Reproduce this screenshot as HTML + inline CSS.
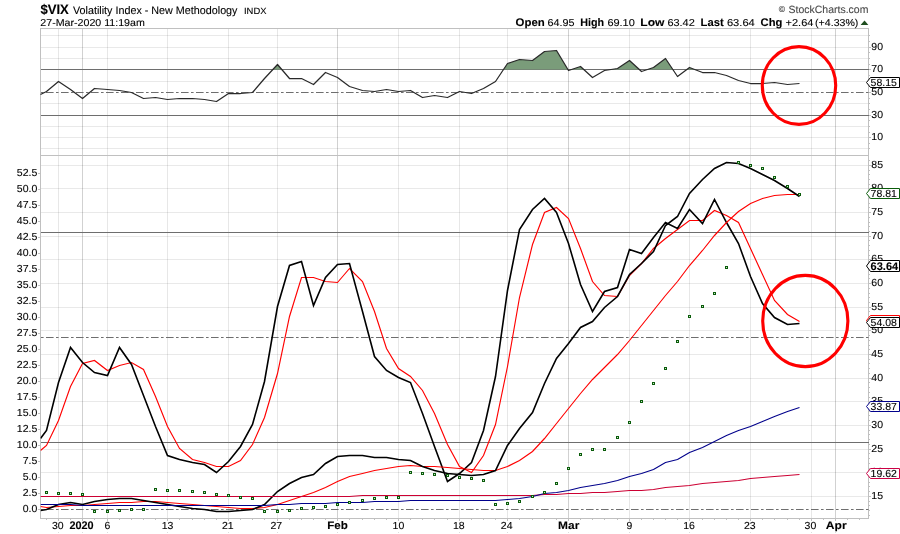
<!DOCTYPE html>
<html><head><meta charset="utf-8"><title>$VIX Volatility Index</title>
<style>html,body{margin:0;padding:0;background:#fff}svg{display:block}</style></head>
<body>
<svg width="900" height="534" viewBox="0 0 900 534" font-family="'Liberation Sans', sans-serif" text-rendering="geometricPrecision" stroke-linejoin="round">
<rect width="900" height="534" fill="#fff"/>
<g shape-rendering="crispEdges" stroke-width="1"><line x1="40.5" x2="868.5" y1="35.5" y2="35.5" stroke="rgba(0,0,0,0.085)"/><line x1="40.5" x2="868.5" y1="47.5" y2="47.5" stroke="rgba(0,0,0,0.085)"/><line x1="40.5" x2="868.5" y1="58.5" y2="58.5" stroke="rgba(0,0,0,0.085)"/><line x1="40.5" x2="868.5" y1="81.5" y2="81.5" stroke="rgba(0,0,0,0.085)"/><line x1="40.5" x2="868.5" y1="103.5" y2="103.5" stroke="rgba(0,0,0,0.085)"/><line x1="40.5" x2="868.5" y1="126.5" y2="126.5" stroke="rgba(0,0,0,0.085)"/><line x1="40.5" x2="868.5" y1="137.5" y2="137.5" stroke="rgba(0,0,0,0.085)"/><line x1="40.5" x2="868.5" y1="148.5" y2="148.5" stroke="rgba(0,0,0,0.085)"/><line x1="40.5" x2="868.5" y1="165.5" y2="165.5" stroke="rgba(0,0,0,0.085)"/><line x1="40.5" x2="868.5" y1="188.5" y2="188.5" stroke="rgba(0,0,0,0.085)"/><line x1="40.5" x2="868.5" y1="212.5" y2="212.5" stroke="rgba(0,0,0,0.085)"/><line x1="40.5" x2="868.5" y1="236.5" y2="236.5" stroke="rgba(0,0,0,0.085)"/><line x1="40.5" x2="868.5" y1="259.5" y2="259.5" stroke="rgba(0,0,0,0.085)"/><line x1="40.5" x2="868.5" y1="283.5" y2="283.5" stroke="rgba(0,0,0,0.085)"/><line x1="40.5" x2="868.5" y1="307.5" y2="307.5" stroke="rgba(0,0,0,0.085)"/><line x1="40.5" x2="868.5" y1="330.5" y2="330.5" stroke="rgba(0,0,0,0.085)"/><line x1="40.5" x2="868.5" y1="354.5" y2="354.5" stroke="rgba(0,0,0,0.085)"/><line x1="40.5" x2="868.5" y1="378.5" y2="378.5" stroke="rgba(0,0,0,0.085)"/><line x1="40.5" x2="868.5" y1="401.5" y2="401.5" stroke="rgba(0,0,0,0.085)"/><line x1="40.5" x2="868.5" y1="425.5" y2="425.5" stroke="rgba(0,0,0,0.085)"/><line x1="40.5" x2="868.5" y1="449.5" y2="449.5" stroke="rgba(0,0,0,0.085)"/><line x1="40.5" x2="868.5" y1="472.5" y2="472.5" stroke="rgba(0,0,0,0.085)"/><line x1="40.5" x2="868.5" y1="496.5" y2="496.5" stroke="rgba(0,0,0,0.085)"/><line x1="58.5" x2="58.5" y1="28.5" y2="518.5" stroke="rgba(0,0,0,0.095)"/><line x1="82.5" x2="82.5" y1="28.5" y2="518.5" stroke="rgba(0,0,0,0.18)"/><line x1="107.5" x2="107.5" y1="28.5" y2="518.5" stroke="rgba(0,0,0,0.095)"/><line x1="167.5" x2="167.5" y1="28.5" y2="518.5" stroke="rgba(0,0,0,0.095)"/><line x1="228.5" x2="228.5" y1="28.5" y2="518.5" stroke="rgba(0,0,0,0.095)"/><line x1="277.5" x2="277.5" y1="28.5" y2="518.5" stroke="rgba(0,0,0,0.095)"/><line x1="337.5" x2="337.5" y1="28.5" y2="518.5" stroke="rgba(0,0,0,0.18)"/><line x1="398.5" x2="398.5" y1="28.5" y2="518.5" stroke="rgba(0,0,0,0.095)"/><line x1="459.5" x2="459.5" y1="28.5" y2="518.5" stroke="rgba(0,0,0,0.095)"/><line x1="507.5" x2="507.5" y1="28.5" y2="518.5" stroke="rgba(0,0,0,0.095)"/><line x1="568.5" x2="568.5" y1="28.5" y2="518.5" stroke="rgba(0,0,0,0.18)"/><line x1="629.5" x2="629.5" y1="28.5" y2="518.5" stroke="rgba(0,0,0,0.095)"/><line x1="689.5" x2="689.5" y1="28.5" y2="518.5" stroke="rgba(0,0,0,0.095)"/><line x1="750.5" x2="750.5" y1="28.5" y2="518.5" stroke="rgba(0,0,0,0.095)"/><line x1="811.5" x2="811.5" y1="28.5" y2="518.5" stroke="rgba(0,0,0,0.095)"/><line x1="835.5" x2="835.5" y1="28.5" y2="518.5" stroke="rgba(0,0,0,0.18)"/></g>
<g shape-rendering="crispEdges" fill="none" stroke="#c0c0c0" stroke-width="1">
<rect x="40.5" y="28.5" width="828.0" height="490.0"/>
<line x1="40.5" x2="868.5" y1="155.5" y2="155.5"/>
</g>
<g shape-rendering="crispEdges" stroke="#c0c0c0" stroke-width="1"><line x1="38" x2="40" y1="509.5" y2="509.5"/><line x1="38" x2="40" y1="493.5" y2="493.5"/><line x1="38" x2="40" y1="477.5" y2="477.5"/><line x1="38" x2="40" y1="461.5" y2="461.5"/><line x1="38" x2="40" y1="445.5" y2="445.5"/><line x1="38" x2="40" y1="429.5" y2="429.5"/><line x1="38" x2="40" y1="413.5" y2="413.5"/><line x1="38" x2="40" y1="397.5" y2="397.5"/><line x1="38" x2="40" y1="381.5" y2="381.5"/><line x1="38" x2="40" y1="365.5" y2="365.5"/><line x1="38" x2="40" y1="349.5" y2="349.5"/><line x1="38" x2="40" y1="333.5" y2="333.5"/><line x1="38" x2="40" y1="317.5" y2="317.5"/><line x1="38" x2="40" y1="301.5" y2="301.5"/><line x1="38" x2="40" y1="285.5" y2="285.5"/><line x1="38" x2="40" y1="269.5" y2="269.5"/><line x1="38" x2="40" y1="253.5" y2="253.5"/><line x1="38" x2="40" y1="237.5" y2="237.5"/><line x1="38" x2="40" y1="221.5" y2="221.5"/><line x1="38" x2="40" y1="205.5" y2="205.5"/><line x1="38" x2="40" y1="189.5" y2="189.5"/><line x1="38" x2="40" y1="173.5" y2="173.5"/><line x1="46.5" x2="46.5" y1="519.0" y2="520.0"/><line x1="58.5" x2="58.5" y1="519.0" y2="521.0"/><line x1="70.5" x2="70.5" y1="519.0" y2="520.0"/><line x1="82.5" x2="82.5" y1="519.0" y2="521.0"/><line x1="94.5" x2="94.5" y1="519.0" y2="520.0"/><line x1="107.5" x2="107.5" y1="519.0" y2="521.0"/><line x1="119.5" x2="119.5" y1="519.0" y2="520.0"/><line x1="131.5" x2="131.5" y1="519.0" y2="520.0"/><line x1="143.5" x2="143.5" y1="519.0" y2="520.0"/><line x1="155.5" x2="155.5" y1="519.0" y2="520.0"/><line x1="167.5" x2="167.5" y1="519.0" y2="521.0"/><line x1="179.5" x2="179.5" y1="519.0" y2="520.0"/><line x1="192.5" x2="192.5" y1="519.0" y2="520.0"/><line x1="204.5" x2="204.5" y1="519.0" y2="520.0"/><line x1="216.5" x2="216.5" y1="519.0" y2="520.0"/><line x1="228.5" x2="228.5" y1="519.0" y2="521.0"/><line x1="240.5" x2="240.5" y1="519.0" y2="520.0"/><line x1="252.5" x2="252.5" y1="519.0" y2="520.0"/><line x1="264.5" x2="264.5" y1="519.0" y2="520.0"/><line x1="277.5" x2="277.5" y1="519.0" y2="521.0"/><line x1="289.5" x2="289.5" y1="519.0" y2="520.0"/><line x1="301.5" x2="301.5" y1="519.0" y2="520.0"/><line x1="313.5" x2="313.5" y1="519.0" y2="520.0"/><line x1="325.5" x2="325.5" y1="519.0" y2="520.0"/><line x1="337.5" x2="337.5" y1="519.0" y2="521.0"/><line x1="349.5" x2="349.5" y1="519.0" y2="520.0"/><line x1="362.5" x2="362.5" y1="519.0" y2="520.0"/><line x1="374.5" x2="374.5" y1="519.0" y2="520.0"/><line x1="386.5" x2="386.5" y1="519.0" y2="520.0"/><line x1="398.5" x2="398.5" y1="519.0" y2="521.0"/><line x1="410.5" x2="410.5" y1="519.0" y2="520.0"/><line x1="422.5" x2="422.5" y1="519.0" y2="520.0"/><line x1="434.5" x2="434.5" y1="519.0" y2="520.0"/><line x1="447.5" x2="447.5" y1="519.0" y2="520.0"/><line x1="459.5" x2="459.5" y1="519.0" y2="521.0"/><line x1="471.5" x2="471.5" y1="519.0" y2="520.0"/><line x1="483.5" x2="483.5" y1="519.0" y2="520.0"/><line x1="495.5" x2="495.5" y1="519.0" y2="520.0"/><line x1="507.5" x2="507.5" y1="519.0" y2="521.0"/><line x1="519.5" x2="519.5" y1="519.0" y2="520.0"/><line x1="532.5" x2="532.5" y1="519.0" y2="520.0"/><line x1="544.5" x2="544.5" y1="519.0" y2="520.0"/><line x1="556.5" x2="556.5" y1="519.0" y2="520.0"/><line x1="568.5" x2="568.5" y1="519.0" y2="521.0"/><line x1="580.5" x2="580.5" y1="519.0" y2="520.0"/><line x1="592.5" x2="592.5" y1="519.0" y2="520.0"/><line x1="604.5" x2="604.5" y1="519.0" y2="520.0"/><line x1="617.5" x2="617.5" y1="519.0" y2="520.0"/><line x1="629.5" x2="629.5" y1="519.0" y2="521.0"/><line x1="641.5" x2="641.5" y1="519.0" y2="520.0"/><line x1="653.5" x2="653.5" y1="519.0" y2="520.0"/><line x1="665.5" x2="665.5" y1="519.0" y2="520.0"/><line x1="677.5" x2="677.5" y1="519.0" y2="520.0"/><line x1="689.5" x2="689.5" y1="519.0" y2="521.0"/><line x1="702.5" x2="702.5" y1="519.0" y2="520.0"/><line x1="714.5" x2="714.5" y1="519.0" y2="520.0"/><line x1="726.5" x2="726.5" y1="519.0" y2="520.0"/><line x1="738.5" x2="738.5" y1="519.0" y2="520.0"/><line x1="750.5" x2="750.5" y1="519.0" y2="521.0"/><line x1="762.5" x2="762.5" y1="519.0" y2="520.0"/><line x1="774.5" x2="774.5" y1="519.0" y2="520.0"/><line x1="787.5" x2="787.5" y1="519.0" y2="520.0"/><line x1="799.5" x2="799.5" y1="519.0" y2="520.0"/><line x1="811.5" x2="811.5" y1="519.0" y2="521.0"/><line x1="823.5" x2="823.5" y1="519.0" y2="520.0"/><line x1="835.5" x2="835.5" y1="519.0" y2="521.0"/><line x1="847.5" x2="847.5" y1="519.0" y2="520.0"/><line x1="859.5" x2="859.5" y1="519.0" y2="520.0"/><line x1="869.0" x2="870.0" y1="515.5" y2="515.5"/><line x1="869.0" x2="870.0" y1="510.5" y2="510.5"/><line x1="869.0" x2="870.0" y1="505.5" y2="505.5"/><line x1="869.0" x2="870.0" y1="501.5" y2="501.5"/><line x1="869.0" x2="871.0" y1="496.5" y2="496.5"/><line x1="869.0" x2="870.0" y1="491.5" y2="491.5"/><line x1="869.0" x2="870.0" y1="486.5" y2="486.5"/><line x1="869.0" x2="870.0" y1="482.5" y2="482.5"/><line x1="869.0" x2="870.0" y1="477.5" y2="477.5"/><line x1="869.0" x2="871.0" y1="472.5" y2="472.5"/><line x1="869.0" x2="870.0" y1="468.5" y2="468.5"/><line x1="869.0" x2="870.0" y1="463.5" y2="463.5"/><line x1="869.0" x2="870.0" y1="458.5" y2="458.5"/><line x1="869.0" x2="870.0" y1="453.5" y2="453.5"/><line x1="869.0" x2="871.0" y1="449.5" y2="449.5"/><line x1="869.0" x2="870.0" y1="444.5" y2="444.5"/><line x1="869.0" x2="870.0" y1="439.5" y2="439.5"/><line x1="869.0" x2="870.0" y1="434.5" y2="434.5"/><line x1="869.0" x2="870.0" y1="430.5" y2="430.5"/><line x1="869.0" x2="871.0" y1="425.5" y2="425.5"/><line x1="869.0" x2="870.0" y1="420.5" y2="420.5"/><line x1="869.0" x2="870.0" y1="415.5" y2="415.5"/><line x1="869.0" x2="870.0" y1="411.5" y2="411.5"/><line x1="869.0" x2="870.0" y1="406.5" y2="406.5"/><line x1="869.0" x2="871.0" y1="401.5" y2="401.5"/><line x1="869.0" x2="870.0" y1="397.5" y2="397.5"/><line x1="869.0" x2="870.0" y1="392.5" y2="392.5"/><line x1="869.0" x2="870.0" y1="387.5" y2="387.5"/><line x1="869.0" x2="870.0" y1="382.5" y2="382.5"/><line x1="869.0" x2="871.0" y1="378.5" y2="378.5"/><line x1="869.0" x2="870.0" y1="373.5" y2="373.5"/><line x1="869.0" x2="870.0" y1="368.5" y2="368.5"/><line x1="869.0" x2="870.0" y1="363.5" y2="363.5"/><line x1="869.0" x2="870.0" y1="359.5" y2="359.5"/><line x1="869.0" x2="871.0" y1="354.5" y2="354.5"/><line x1="869.0" x2="870.0" y1="349.5" y2="349.5"/><line x1="869.0" x2="870.0" y1="345.5" y2="345.5"/><line x1="869.0" x2="870.0" y1="340.5" y2="340.5"/><line x1="869.0" x2="870.0" y1="335.5" y2="335.5"/><line x1="869.0" x2="871.0" y1="330.5" y2="330.5"/><line x1="869.0" x2="870.0" y1="326.5" y2="326.5"/><line x1="869.0" x2="870.0" y1="321.5" y2="321.5"/><line x1="869.0" x2="870.0" y1="316.5" y2="316.5"/><line x1="869.0" x2="870.0" y1="311.5" y2="311.5"/><line x1="869.0" x2="871.0" y1="307.5" y2="307.5"/><line x1="869.0" x2="870.0" y1="302.5" y2="302.5"/><line x1="869.0" x2="870.0" y1="297.5" y2="297.5"/><line x1="869.0" x2="870.0" y1="293.5" y2="293.5"/><line x1="869.0" x2="870.0" y1="288.5" y2="288.5"/><line x1="869.0" x2="871.0" y1="283.5" y2="283.5"/><line x1="869.0" x2="870.0" y1="278.5" y2="278.5"/><line x1="869.0" x2="870.0" y1="274.5" y2="274.5"/><line x1="869.0" x2="870.0" y1="269.5" y2="269.5"/><line x1="869.0" x2="870.0" y1="264.5" y2="264.5"/><line x1="869.0" x2="871.0" y1="259.5" y2="259.5"/><line x1="869.0" x2="870.0" y1="255.5" y2="255.5"/><line x1="869.0" x2="870.0" y1="250.5" y2="250.5"/><line x1="869.0" x2="870.0" y1="245.5" y2="245.5"/><line x1="869.0" x2="870.0" y1="240.5" y2="240.5"/><line x1="869.0" x2="871.0" y1="236.5" y2="236.5"/><line x1="869.0" x2="870.0" y1="231.5" y2="231.5"/><line x1="869.0" x2="870.0" y1="226.5" y2="226.5"/><line x1="869.0" x2="870.0" y1="222.5" y2="222.5"/><line x1="869.0" x2="870.0" y1="217.5" y2="217.5"/><line x1="869.0" x2="871.0" y1="212.5" y2="212.5"/><line x1="869.0" x2="870.0" y1="207.5" y2="207.5"/><line x1="869.0" x2="870.0" y1="203.5" y2="203.5"/><line x1="869.0" x2="870.0" y1="198.5" y2="198.5"/><line x1="869.0" x2="870.0" y1="193.5" y2="193.5"/><line x1="869.0" x2="871.0" y1="188.5" y2="188.5"/><line x1="869.0" x2="870.0" y1="184.5" y2="184.5"/><line x1="869.0" x2="870.0" y1="179.5" y2="179.5"/><line x1="869.0" x2="870.0" y1="174.5" y2="174.5"/><line x1="869.0" x2="870.0" y1="170.5" y2="170.5"/><line x1="869.0" x2="871.0" y1="165.5" y2="165.5"/><line x1="869.0" x2="870.0" y1="160.5" y2="160.5"/><line x1="869.0" x2="870.0" y1="35.5" y2="35.5"/><line x1="869.0" x2="870.0" y1="41.5" y2="41.5"/><line x1="869.0" x2="871.0" y1="47.5" y2="47.5"/><line x1="869.0" x2="870.0" y1="52.5" y2="52.5"/><line x1="869.0" x2="870.0" y1="58.5" y2="58.5"/><line x1="869.0" x2="870.0" y1="64.5" y2="64.5"/><line x1="869.0" x2="871.0" y1="69.5" y2="69.5"/><line x1="869.0" x2="870.0" y1="75.5" y2="75.5"/><line x1="869.0" x2="870.0" y1="81.5" y2="81.5"/><line x1="869.0" x2="870.0" y1="86.5" y2="86.5"/><line x1="869.0" x2="871.0" y1="92.5" y2="92.5"/><line x1="869.0" x2="870.0" y1="98.5" y2="98.5"/><line x1="869.0" x2="870.0" y1="103.5" y2="103.5"/><line x1="869.0" x2="870.0" y1="109.5" y2="109.5"/><line x1="869.0" x2="871.0" y1="115.5" y2="115.5"/><line x1="869.0" x2="870.0" y1="120.5" y2="120.5"/><line x1="869.0" x2="870.0" y1="126.5" y2="126.5"/><line x1="869.0" x2="870.0" y1="132.5" y2="132.5"/><line x1="869.0" x2="871.0" y1="137.5" y2="137.5"/><line x1="869.0" x2="870.0" y1="143.5" y2="143.5"/><line x1="869.0" x2="870.0" y1="148.5" y2="148.5"/></g>
<g shape-rendering="crispEdges" fill="#dcdcdc"><rect x="58" y="532" width="1" height="1"/><rect x="82" y="532" width="1" height="1"/><rect x="107" y="532" width="1" height="1"/><rect x="167" y="532" width="1" height="1"/><rect x="228" y="532" width="1" height="1"/><rect x="277" y="532" width="1" height="1"/><rect x="337" y="532" width="1" height="1"/><rect x="398" y="532" width="1" height="1"/><rect x="459" y="532" width="1" height="1"/><rect x="507" y="532" width="1" height="1"/><rect x="568" y="532" width="1" height="1"/><rect x="629" y="532" width="1" height="1"/><rect x="689" y="532" width="1" height="1"/><rect x="750" y="532" width="1" height="1"/><rect x="811" y="532" width="1" height="1"/><rect x="835" y="532" width="1" height="1"/></g>
<g shape-rendering="crispEdges" stroke="#6e6e6e" stroke-width="1">
<line x1="40.5" x2="868.5" y1="69.5" y2="69.5"/>
<line x1="40.5" x2="868.5" y1="115.5" y2="115.5"/>
<line x1="40.5" x2="868.5" y1="92.5" y2="92.5" stroke-dasharray="7.6 2.4 2.6 2.4" stroke-dashoffset="9.5" shape-rendering="auto"/>
<line x1="40.5" x2="868.5" y1="232.5" y2="232.5"/>
<line x1="40.5" x2="868.5" y1="442.5" y2="442.5"/>
<line x1="40.5" x2="868.5" y1="337.5" y2="337.5" stroke-dasharray="7.6 2.4 2.6 2.4" stroke-dashoffset="9.5" shape-rendering="auto"/>
<line x1="40.5" x2="868.5" y1="509.5" y2="509.5" stroke-dasharray="7.6 2.4 2.6 2.4" stroke-dashoffset="9.5" shape-rendering="auto"/>
</g>
<polygon points="272.9,69.5 277.5,64.5 281.8,69.5" fill="#7a9c7a"/>
<polygon points="503.5,69.5 507.5,63.5 519.5,59.5 532.5,60.5 544.5,51.5 556.5,50.5 567.9,69.5" fill="#7a9c7a"/>
<polygon points="571.5,69.5 580.5,66.5 583.8,69.5" fill="#7a9c7a"/>
<polygon points="611.0,69.5 617.5,68.5 629.5,60.5 639.3,69.5" fill="#7a9c7a"/>
<polygon points="647.5,69.5 653.5,67.5 665.5,58.5 672.8,69.5" fill="#7a9c7a"/>
<polygon points="686.8,69.5 689.5,67.5 694.7,69.5" fill="#7a9c7a"/>
<polyline points="40.5,94.5 46.5,91.5 58.5,81.5 70.5,89.5 82.5,98.5 94.5,88.5 107.5,89.5 119.5,90.5 131.5,92.5 143.5,98.5 155.5,97.5 167.5,99.5 179.5,98.5 192.5,98.5 204.5,99.5 216.5,101.5 228.5,93.5 240.5,93.5 252.5,92.5 264.5,78.5 277.5,64.5 289.5,78.5 301.5,78.5 313.5,84.5 325.5,72.5 337.5,77.5 349.5,86.5 362.5,90.5 374.5,91.5 386.5,89.5 398.5,91.5 410.5,90.5 422.5,97.5 434.5,95.5 447.5,97.5 459.5,91.5 471.5,93.5 483.5,88.5 495.5,81.5 507.5,63.5 519.5,59.5 532.5,60.5 544.5,51.5 556.5,50.5 568.5,70.5 580.5,66.5 592.5,77.5 604.5,70.5 617.5,68.5 629.5,60.5 641.5,71.5 653.5,67.5 665.5,58.5 677.5,76.5 689.5,67.5 702.5,72.5 714.5,72.5 726.5,75.5 738.5,80.5 750.5,83.5 762.5,83.5 774.5,82.5 787.5,84.5 799.5,83.5" fill="none" stroke="#2a2a2a" stroke-width="1.25" stroke-linejoin="round"/>
<clipPath id="c"><rect x="40.5" y="155.5" width="828.0" height="363.0"/></clipPath>
<g clip-path="url(#c)">
<polyline points="40.5,450.5 46.5,445.5 58.5,420.5 70.5,386.5 82.5,363.5 94.5,360.5 107.5,370.5 119.5,365.5 131.5,362.5 143.5,369.5 155.5,396.5 167.5,426.5 179.5,448.5 192.5,459.5 204.5,462.5 216.5,466.5 228.5,466.5 240.5,460.5 252.5,444.5 264.5,417.5 277.5,373.5 289.5,316.5 301.5,277.5 313.5,277.5 325.5,281.5 337.5,282.5 349.5,268.5 362.5,281.5 374.5,311.5 386.5,348.5 398.5,368.5 410.5,376.5 422.5,390.5 434.5,413.5 447.5,444.5 459.5,466.5 471.5,472.5 483.5,455.5 495.5,424.5 507.5,366.5 519.5,297.5 532.5,244.5 544.5,212.5 556.5,207.5 568.5,218.5 580.5,248.5 592.5,281.5 604.5,295.5 617.5,296.5 629.5,275.5 641.5,263.5 653.5,248.5 665.5,238.5 677.5,229.5 689.5,220.5 702.5,220.5 714.5,210.5 726.5,215.5 738.5,222.5 750.5,248.5 762.5,274.5 774.5,300.5 787.5,314.5 799.5,321.5" fill="none" stroke="#ff0000" stroke-width="1.15" stroke-linejoin="miter"/>
<polyline points="40.5,438.5 46.5,430.5 58.5,382.5 70.5,347.5 82.5,362.5 94.5,372.5 107.5,375.5 119.5,347.5 131.5,364.5 143.5,395.5 155.5,426.5 167.5,455.5 179.5,459.5 192.5,462.5 204.5,464.5 216.5,472.5 228.5,461.5 240.5,446.5 252.5,424.5 264.5,381.5 277.5,306.5 289.5,265.5 301.5,261.5 313.5,305.5 325.5,277.5 337.5,264.5 349.5,263.5 362.5,311.5 374.5,356.5 386.5,370.5 398.5,377.5 410.5,382.5 422.5,413.5 434.5,446.5 447.5,481.5 459.5,473.5 471.5,462.5 483.5,430.5 495.5,376.5 507.5,290.5 519.5,229.5 532.5,209.5 544.5,198.5 556.5,212.5 568.5,243.5 580.5,284.5 592.5,311.5 604.5,291.5 617.5,287.5 629.5,249.5 641.5,253.5 653.5,237.5 665.5,222.5 677.5,228.5 689.5,209.5 702.5,223.5 714.5,199.5 726.5,222.5 738.5,243.5 750.5,276.5 762.5,303.5 774.5,317.5 787.5,324.5 799.5,323.5" fill="none" stroke="#000" stroke-width="1.6" stroke-linejoin="miter"/>
<polyline points="40.5,506.5 46.5,507.5 58.5,506.5 70.5,505.5 82.5,505.5 94.5,504.5 107.5,503.5 119.5,502.5 131.5,502.5 143.5,501.5 155.5,501.5 167.5,502.5 179.5,503.5 192.5,504.5 204.5,505.5 216.5,506.5 228.5,507.5 240.5,508.5 252.5,508.5 264.5,507.5 277.5,504.5 289.5,500.5 301.5,496.5 313.5,492.5 325.5,487.5 337.5,481.5 349.5,476.5 362.5,473.5 374.5,470.5 386.5,468.5 398.5,466.5 410.5,465.5 422.5,466.5 434.5,466.5 447.5,467.5 459.5,468.5 471.5,469.5 483.5,470.5 495.5,470.5 507.5,466.5 519.5,460.5 532.5,451.5 544.5,438.5 556.5,423.5 568.5,408.5 580.5,393.5 592.5,379.5 604.5,367.5 617.5,354.5 629.5,340.5 641.5,325.5 653.5,310.5 665.5,295.5 677.5,281.5 689.5,265.5 702.5,250.5 714.5,235.5 726.5,222.5 738.5,211.5 750.5,203.5 762.5,198.5 774.5,195.5 787.5,194.5 799.5,194.5" fill="none" stroke="#ff0000" stroke-width="1.15" stroke-linejoin="miter"/>
<polyline points="40.5,510.5 46.5,509.5 58.5,504.5 70.5,502.5 82.5,504.5 94.5,501.5 107.5,499.5 119.5,498.5 131.5,498.5 143.5,500.5 155.5,502.5 167.5,504.5 179.5,506.5 192.5,508.5 204.5,509.5 216.5,511.5 228.5,511.5 240.5,510.5 252.5,509.5 264.5,504.5 277.5,491.5 289.5,483.5 301.5,477.5 313.5,474.5 325.5,463.5 337.5,456.5 349.5,455.5 362.5,455.5 374.5,457.5 386.5,457.5 398.5,459.5 410.5,460.5 422.5,466.5 434.5,470.5 447.5,473.5 459.5,474.5 471.5,475.5 483.5,474.5 495.5,470.5 507.5,445.5 519.5,428.5 532.5,412.5 544.5,383.5 556.5,358.5 568.5,343.5 580.5,327.5 592.5,321.5 604.5,307.5 617.5,296.5 629.5,274.5 641.5,263.5 653.5,251.5 665.5,225.5 677.5,216.5 689.5,193.5 702.5,179.5 714.5,168.5 726.5,162.5 738.5,163.5 750.5,168.5 762.5,174.5 774.5,180.5 787.5,188.5 799.5,196.5" fill="none" stroke="#000" stroke-width="1.6" stroke-linejoin="miter"/>
<polyline points="40.5,496.5 46.5,496.5 58.5,496.5 70.5,496.5 82.5,496.5 94.5,496.5 107.5,496.5 119.5,496.5 131.5,496.5 143.5,496.5 155.5,496.5 167.5,496.5 179.5,496.5 192.5,496.5 204.5,496.5 216.5,496.5 228.5,496.5 240.5,496.5 252.5,496.5 264.5,496.5 277.5,496.5 289.5,496.5 301.5,496.5 313.5,496.5 325.5,496.5 337.5,496.5 349.5,496.5 362.5,495.5 374.5,495.5 386.5,495.5 398.5,495.5 410.5,495.5 422.5,495.5 434.5,495.5 447.5,495.5 459.5,495.5 471.5,495.5 483.5,495.5 495.5,495.5 507.5,495.5 519.5,495.5 532.5,495.5 544.5,494.5 556.5,494.5 568.5,493.5 580.5,493.5 592.5,492.5 604.5,492.5 617.5,491.5 629.5,490.5 641.5,490.5 653.5,489.5 665.5,487.5 677.5,486.5 689.5,485.5 702.5,483.5 714.5,482.5 726.5,481.5 738.5,480.5 750.5,478.5 762.5,477.5 774.5,476.5 787.5,475.5 799.5,474.5" fill="none" stroke="#cc0033" stroke-width="1.05" stroke-linejoin="round"/>
<polyline points="40.5,504.5 46.5,504.5 58.5,504.5 70.5,504.5 82.5,505.5 94.5,505.5 107.5,505.5 119.5,505.5 131.5,505.5 143.5,505.5 155.5,505.5 167.5,505.5 179.5,505.5 192.5,505.5 204.5,505.5 216.5,505.5 228.5,505.5 240.5,505.5 252.5,505.5 264.5,505.5 277.5,504.5 289.5,504.5 301.5,503.5 313.5,503.5 325.5,503.5 337.5,502.5 349.5,502.5 362.5,502.5 374.5,501.5 386.5,501.5 398.5,501.5 410.5,500.5 422.5,500.5 434.5,500.5 447.5,500.5 459.5,500.5 471.5,500.5 483.5,500.5 495.5,500.5 507.5,499.5 519.5,498.5 532.5,496.5 544.5,493.5 556.5,492.5 568.5,490.5 580.5,487.5 592.5,485.5 604.5,483.5 617.5,480.5 629.5,476.5 641.5,473.5 653.5,469.5 665.5,462.5 677.5,459.5 689.5,452.5 702.5,447.5 714.5,441.5 726.5,435.5 738.5,430.5 750.5,426.5 762.5,421.5 774.5,416.5 787.5,411.5 799.5,407.5" fill="none" stroke="#00008b" stroke-width="1.05" stroke-linejoin="round"/>
<g shape-rendering="crispEdges"><rect x="45" y="491" width="3" height="3" fill="#0a5c0a"/><rect x="46" y="492" width="1" height="1" fill="#c8e6c8"/><rect x="57" y="492" width="3" height="3" fill="#0a5c0a"/><rect x="58" y="493" width="1" height="1" fill="#c8e6c8"/><rect x="69" y="492" width="3" height="3" fill="#0a5c0a"/><rect x="70" y="493" width="1" height="1" fill="#c8e6c8"/><rect x="81" y="493" width="3" height="3" fill="#0a5c0a"/><rect x="82" y="494" width="1" height="1" fill="#c8e6c8"/><rect x="93" y="510" width="3" height="3" fill="#0a5c0a"/><rect x="94" y="511" width="1" height="1" fill="#c8e6c8"/><rect x="106" y="510" width="3" height="3" fill="#0a5c0a"/><rect x="107" y="511" width="1" height="1" fill="#c8e6c8"/><rect x="118" y="509" width="3" height="3" fill="#0a5c0a"/><rect x="119" y="510" width="1" height="1" fill="#c8e6c8"/><rect x="130" y="508" width="3" height="3" fill="#0a5c0a"/><rect x="131" y="509" width="1" height="1" fill="#c8e6c8"/><rect x="142" y="508" width="3" height="3" fill="#0a5c0a"/><rect x="143" y="509" width="1" height="1" fill="#c8e6c8"/><rect x="154" y="488" width="3" height="3" fill="#0a5c0a"/><rect x="155" y="489" width="1" height="1" fill="#c8e6c8"/><rect x="166" y="489" width="3" height="3" fill="#0a5c0a"/><rect x="167" y="490" width="1" height="1" fill="#c8e6c8"/><rect x="178" y="489" width="3" height="3" fill="#0a5c0a"/><rect x="179" y="490" width="1" height="1" fill="#c8e6c8"/><rect x="191" y="490" width="3" height="3" fill="#0a5c0a"/><rect x="192" y="491" width="1" height="1" fill="#c8e6c8"/><rect x="203" y="491" width="3" height="3" fill="#0a5c0a"/><rect x="204" y="492" width="1" height="1" fill="#c8e6c8"/><rect x="215" y="493" width="3" height="3" fill="#0a5c0a"/><rect x="216" y="494" width="1" height="1" fill="#c8e6c8"/><rect x="227" y="494" width="3" height="3" fill="#0a5c0a"/><rect x="228" y="495" width="1" height="1" fill="#c8e6c8"/><rect x="239" y="496" width="3" height="3" fill="#0a5c0a"/><rect x="240" y="497" width="1" height="1" fill="#c8e6c8"/><rect x="251" y="497" width="3" height="3" fill="#0a5c0a"/><rect x="252" y="498" width="1" height="1" fill="#c8e6c8"/><rect x="263" y="510" width="3" height="3" fill="#0a5c0a"/><rect x="264" y="511" width="1" height="1" fill="#c8e6c8"/><rect x="276" y="510" width="3" height="3" fill="#0a5c0a"/><rect x="277" y="511" width="1" height="1" fill="#c8e6c8"/><rect x="288" y="509" width="3" height="3" fill="#0a5c0a"/><rect x="289" y="510" width="1" height="1" fill="#c8e6c8"/><rect x="300" y="507" width="3" height="3" fill="#0a5c0a"/><rect x="301" y="508" width="1" height="1" fill="#c8e6c8"/><rect x="312" y="506" width="3" height="3" fill="#0a5c0a"/><rect x="313" y="507" width="1" height="1" fill="#c8e6c8"/><rect x="324" y="505" width="3" height="3" fill="#0a5c0a"/><rect x="325" y="506" width="1" height="1" fill="#c8e6c8"/><rect x="336" y="503" width="3" height="3" fill="#0a5c0a"/><rect x="337" y="504" width="1" height="1" fill="#c8e6c8"/><rect x="348" y="501" width="3" height="3" fill="#0a5c0a"/><rect x="349" y="502" width="1" height="1" fill="#c8e6c8"/><rect x="361" y="499" width="3" height="3" fill="#0a5c0a"/><rect x="362" y="500" width="1" height="1" fill="#c8e6c8"/><rect x="373" y="497" width="3" height="3" fill="#0a5c0a"/><rect x="374" y="498" width="1" height="1" fill="#c8e6c8"/><rect x="385" y="496" width="3" height="3" fill="#0a5c0a"/><rect x="386" y="497" width="1" height="1" fill="#c8e6c8"/><rect x="397" y="496" width="3" height="3" fill="#0a5c0a"/><rect x="398" y="497" width="1" height="1" fill="#c8e6c8"/><rect x="409" y="471" width="3" height="3" fill="#0a5c0a"/><rect x="410" y="472" width="1" height="1" fill="#c8e6c8"/><rect x="421" y="472" width="3" height="3" fill="#0a5c0a"/><rect x="422" y="473" width="1" height="1" fill="#c8e6c8"/><rect x="433" y="473" width="3" height="3" fill="#0a5c0a"/><rect x="434" y="474" width="1" height="1" fill="#c8e6c8"/><rect x="446" y="474" width="3" height="3" fill="#0a5c0a"/><rect x="447" y="475" width="1" height="1" fill="#c8e6c8"/><rect x="458" y="476" width="3" height="3" fill="#0a5c0a"/><rect x="459" y="477" width="1" height="1" fill="#c8e6c8"/><rect x="470" y="477" width="3" height="3" fill="#0a5c0a"/><rect x="471" y="478" width="1" height="1" fill="#c8e6c8"/><rect x="482" y="479" width="3" height="3" fill="#0a5c0a"/><rect x="483" y="480" width="1" height="1" fill="#c8e6c8"/><rect x="494" y="503" width="3" height="3" fill="#0a5c0a"/><rect x="495" y="504" width="1" height="1" fill="#c8e6c8"/><rect x="506" y="502" width="3" height="3" fill="#0a5c0a"/><rect x="507" y="503" width="1" height="1" fill="#c8e6c8"/><rect x="518" y="500" width="3" height="3" fill="#0a5c0a"/><rect x="519" y="501" width="1" height="1" fill="#c8e6c8"/><rect x="531" y="495" width="3" height="3" fill="#0a5c0a"/><rect x="532" y="496" width="1" height="1" fill="#c8e6c8"/><rect x="543" y="491" width="3" height="3" fill="#0a5c0a"/><rect x="544" y="492" width="1" height="1" fill="#c8e6c8"/><rect x="555" y="482" width="3" height="3" fill="#0a5c0a"/><rect x="556" y="483" width="1" height="1" fill="#c8e6c8"/><rect x="567" y="467" width="3" height="3" fill="#0a5c0a"/><rect x="568" y="468" width="1" height="1" fill="#c8e6c8"/><rect x="579" y="453" width="3" height="3" fill="#0a5c0a"/><rect x="580" y="454" width="1" height="1" fill="#c8e6c8"/><rect x="591" y="448" width="3" height="3" fill="#0a5c0a"/><rect x="592" y="449" width="1" height="1" fill="#c8e6c8"/><rect x="603" y="448" width="3" height="3" fill="#0a5c0a"/><rect x="604" y="449" width="1" height="1" fill="#c8e6c8"/><rect x="616" y="436" width="3" height="3" fill="#0a5c0a"/><rect x="617" y="437" width="1" height="1" fill="#c8e6c8"/><rect x="628" y="421" width="3" height="3" fill="#0a5c0a"/><rect x="629" y="422" width="1" height="1" fill="#c8e6c8"/><rect x="640" y="400" width="3" height="3" fill="#0a5c0a"/><rect x="641" y="401" width="1" height="1" fill="#c8e6c8"/><rect x="652" y="382" width="3" height="3" fill="#0a5c0a"/><rect x="653" y="383" width="1" height="1" fill="#c8e6c8"/><rect x="664" y="367" width="3" height="3" fill="#0a5c0a"/><rect x="665" y="368" width="1" height="1" fill="#c8e6c8"/><rect x="676" y="340" width="3" height="3" fill="#0a5c0a"/><rect x="677" y="341" width="1" height="1" fill="#c8e6c8"/><rect x="688" y="315" width="3" height="3" fill="#0a5c0a"/><rect x="689" y="316" width="1" height="1" fill="#c8e6c8"/><rect x="701" y="305" width="3" height="3" fill="#0a5c0a"/><rect x="702" y="306" width="1" height="1" fill="#c8e6c8"/><rect x="713" y="292" width="3" height="3" fill="#0a5c0a"/><rect x="714" y="293" width="1" height="1" fill="#c8e6c8"/><rect x="725" y="266" width="3" height="3" fill="#0a5c0a"/><rect x="726" y="267" width="1" height="1" fill="#c8e6c8"/><rect x="737" y="161" width="3" height="3" fill="#0a5c0a"/><rect x="738" y="162" width="1" height="1" fill="#c8e6c8"/><rect x="749" y="164" width="3" height="3" fill="#0a5c0a"/><rect x="750" y="165" width="1" height="1" fill="#c8e6c8"/><rect x="761" y="167" width="3" height="3" fill="#0a5c0a"/><rect x="762" y="168" width="1" height="1" fill="#c8e6c8"/><rect x="773" y="176" width="3" height="3" fill="#0a5c0a"/><rect x="774" y="177" width="1" height="1" fill="#c8e6c8"/><rect x="786" y="185" width="3" height="3" fill="#0a5c0a"/><rect x="787" y="186" width="1" height="1" fill="#c8e6c8"/><rect x="798" y="193" width="3" height="3" fill="#0a5c0a"/><rect x="799" y="194" width="1" height="1" fill="#c8e6c8"/></g>
</g>
<ellipse cx="799" cy="85.5" rx="36.7" ry="38.9" fill="none" stroke="#f00" stroke-width="3.1"/>
<ellipse cx="805.3" cy="321" rx="42.6" ry="45.6" fill="none" stroke="#f00" stroke-width="3.1"/>
<text x="40.4" y="14.0" font-size="13.6" text-anchor="start" font-weight="bold" fill="#000" stroke="#000" stroke-width="0.1" textLength="28.4" lengthAdjust="spacingAndGlyphs">$VIX</text>
<text x="73.0" y="14.0" font-size="11" text-anchor="start" font-weight="normal" fill="#000" stroke="#000" stroke-width="0.1" textLength="164.5" lengthAdjust="spacingAndGlyphs">Volatility Index - New Methodology</text>
<text x="244.0" y="14.0" font-size="9" text-anchor="start" font-weight="normal" fill="#000" stroke="#000" stroke-width="0.1" textLength="22.5" lengthAdjust="spacingAndGlyphs">INDX</text>
<text x="40.3" y="25.7" font-size="10" text-anchor="start" font-weight="normal" fill="#000" stroke="#000" stroke-width="0.1" textLength="104.5" lengthAdjust="spacingAndGlyphs">27-Mar-2020 11:19am</text>
<text x="515.6" y="26.0" font-size="11" text-anchor="start" font-weight="bold" fill="#000" stroke="#000" stroke-width="0.1" textLength="29.2" lengthAdjust="spacingAndGlyphs">Open</text>
<text x="547.4" y="26.0" font-size="10" text-anchor="start" font-weight="normal" fill="#000" stroke="#000" stroke-width="0.1" textLength="27.0" lengthAdjust="spacingAndGlyphs">64.95</text>
<text x="580.3" y="26.0" font-size="11" text-anchor="start" font-weight="bold" fill="#000" stroke="#000" stroke-width="0.1" textLength="23.9" lengthAdjust="spacingAndGlyphs">High</text>
<text x="607.4" y="26.0" font-size="10" text-anchor="start" font-weight="normal" fill="#000" stroke="#000" stroke-width="0.1" textLength="27.4" lengthAdjust="spacingAndGlyphs">69.10</text>
<text x="640.3" y="26.0" font-size="11" text-anchor="start" font-weight="bold" fill="#000" stroke="#000" stroke-width="0.1" textLength="24.1" lengthAdjust="spacingAndGlyphs">Low</text>
<text x="667.4" y="26.0" font-size="10" text-anchor="start" font-weight="normal" fill="#000" stroke="#000" stroke-width="0.1" textLength="27.4" lengthAdjust="spacingAndGlyphs">63.42</text>
<text x="700.6" y="26.0" font-size="11" text-anchor="start" font-weight="bold" fill="#000" stroke="#000" stroke-width="0.1" textLength="23.1" lengthAdjust="spacingAndGlyphs">Last</text>
<text x="726.9" y="26.0" font-size="10" text-anchor="start" font-weight="normal" fill="#000" stroke="#000" stroke-width="0.1" textLength="27.9" lengthAdjust="spacingAndGlyphs">63.64</text>
<text x="760.6" y="26.0" font-size="11" text-anchor="start" font-weight="bold" fill="#000" stroke="#000" stroke-width="0.1" textLength="21.8" lengthAdjust="spacingAndGlyphs">Chg</text>
<text x="785.6" y="26.0" font-size="10" text-anchor="start" font-weight="normal" fill="#000" stroke="#000" stroke-width="0.1" textLength="27.8" lengthAdjust="spacingAndGlyphs">+2.64</text>
<text x="815.1" y="26.0" font-size="10" text-anchor="start" font-weight="normal" fill="#000" stroke="#000" stroke-width="0.1" textLength="43.3" lengthAdjust="spacingAndGlyphs">(+4.33%)</text>
<polygon points="860.6,25 868.4,25 864.5,20.6" fill="#1e4d1e"/>
<text x="778.8" y="12.3" font-size="8.6" text-anchor="start" font-weight="bold" fill="#4a4a4a" stroke="#4a4a4a" stroke-width="0.1" >©</text>
<text x="788.6" y="12.7" font-size="10.5" text-anchor="start" font-weight="normal" fill="#4a4a4a" stroke="#4a4a4a" stroke-width="0.1" textLength="79.8" lengthAdjust="spacingAndGlyphs">StockCharts.com</text>
<text x="22.7" y="512.0" font-size="10.2" text-anchor="start" font-weight="normal" fill="#000" stroke="#000" stroke-width="0.1" textLength="14.6" lengthAdjust="spacingAndGlyphs">0.0</text>
<text x="22.7" y="496.0" font-size="10.2" text-anchor="start" font-weight="normal" fill="#000" stroke="#000" stroke-width="0.1" textLength="14.6" lengthAdjust="spacingAndGlyphs">2.5</text>
<text x="22.7" y="480.0" font-size="10.2" text-anchor="start" font-weight="normal" fill="#000" stroke="#000" stroke-width="0.1" textLength="14.6" lengthAdjust="spacingAndGlyphs">5.0</text>
<text x="22.7" y="464.0" font-size="10.2" text-anchor="start" font-weight="normal" fill="#000" stroke="#000" stroke-width="0.1" textLength="14.6" lengthAdjust="spacingAndGlyphs">7.5</text>
<text x="16.8" y="448.0" font-size="10.2" text-anchor="start" font-weight="normal" fill="#000" stroke="#000" stroke-width="0.1" textLength="20.5" lengthAdjust="spacingAndGlyphs">10.0</text>
<text x="16.8" y="432.0" font-size="10.2" text-anchor="start" font-weight="normal" fill="#000" stroke="#000" stroke-width="0.1" textLength="20.5" lengthAdjust="spacingAndGlyphs">12.5</text>
<text x="16.8" y="416.0" font-size="10.2" text-anchor="start" font-weight="normal" fill="#000" stroke="#000" stroke-width="0.1" textLength="20.5" lengthAdjust="spacingAndGlyphs">15.0</text>
<text x="16.8" y="400.0" font-size="10.2" text-anchor="start" font-weight="normal" fill="#000" stroke="#000" stroke-width="0.1" textLength="20.5" lengthAdjust="spacingAndGlyphs">17.5</text>
<text x="16.8" y="384.0" font-size="10.2" text-anchor="start" font-weight="normal" fill="#000" stroke="#000" stroke-width="0.1" textLength="20.5" lengthAdjust="spacingAndGlyphs">20.0</text>
<text x="16.8" y="368.0" font-size="10.2" text-anchor="start" font-weight="normal" fill="#000" stroke="#000" stroke-width="0.1" textLength="20.5" lengthAdjust="spacingAndGlyphs">22.5</text>
<text x="16.8" y="352.0" font-size="10.2" text-anchor="start" font-weight="normal" fill="#000" stroke="#000" stroke-width="0.1" textLength="20.5" lengthAdjust="spacingAndGlyphs">25.0</text>
<text x="16.8" y="336.0" font-size="10.2" text-anchor="start" font-weight="normal" fill="#000" stroke="#000" stroke-width="0.1" textLength="20.5" lengthAdjust="spacingAndGlyphs">27.5</text>
<text x="16.8" y="320.0" font-size="10.2" text-anchor="start" font-weight="normal" fill="#000" stroke="#000" stroke-width="0.1" textLength="20.5" lengthAdjust="spacingAndGlyphs">30.0</text>
<text x="16.8" y="304.0" font-size="10.2" text-anchor="start" font-weight="normal" fill="#000" stroke="#000" stroke-width="0.1" textLength="20.5" lengthAdjust="spacingAndGlyphs">32.5</text>
<text x="16.8" y="288.0" font-size="10.2" text-anchor="start" font-weight="normal" fill="#000" stroke="#000" stroke-width="0.1" textLength="20.5" lengthAdjust="spacingAndGlyphs">35.0</text>
<text x="16.8" y="272.0" font-size="10.2" text-anchor="start" font-weight="normal" fill="#000" stroke="#000" stroke-width="0.1" textLength="20.5" lengthAdjust="spacingAndGlyphs">37.5</text>
<text x="16.8" y="256.0" font-size="10.2" text-anchor="start" font-weight="normal" fill="#000" stroke="#000" stroke-width="0.1" textLength="20.5" lengthAdjust="spacingAndGlyphs">40.0</text>
<text x="16.8" y="240.0" font-size="10.2" text-anchor="start" font-weight="normal" fill="#000" stroke="#000" stroke-width="0.1" textLength="20.5" lengthAdjust="spacingAndGlyphs">42.5</text>
<text x="16.8" y="224.0" font-size="10.2" text-anchor="start" font-weight="normal" fill="#000" stroke="#000" stroke-width="0.1" textLength="20.5" lengthAdjust="spacingAndGlyphs">45.0</text>
<text x="16.8" y="208.0" font-size="10.2" text-anchor="start" font-weight="normal" fill="#000" stroke="#000" stroke-width="0.1" textLength="20.5" lengthAdjust="spacingAndGlyphs">47.5</text>
<text x="16.8" y="192.0" font-size="10.2" text-anchor="start" font-weight="normal" fill="#000" stroke="#000" stroke-width="0.1" textLength="20.5" lengthAdjust="spacingAndGlyphs">50.0</text>
<text x="16.8" y="176.0" font-size="10.2" text-anchor="start" font-weight="normal" fill="#000" stroke="#000" stroke-width="0.1" textLength="20.5" lengthAdjust="spacingAndGlyphs">52.5</text>
<text x="871.3" y="50.0" font-size="10.2" text-anchor="start" font-weight="normal" fill="#000" stroke="#000" stroke-width="0.1" textLength="11.7" lengthAdjust="spacingAndGlyphs">90</text>
<text x="871.3" y="72.0" font-size="10.2" text-anchor="start" font-weight="normal" fill="#000" stroke="#000" stroke-width="0.1" textLength="11.7" lengthAdjust="spacingAndGlyphs">70</text>
<text x="871.3" y="95.0" font-size="10.2" text-anchor="start" font-weight="normal" fill="#000" stroke="#000" stroke-width="0.1" textLength="11.7" lengthAdjust="spacingAndGlyphs">50</text>
<text x="871.3" y="118.0" font-size="10.2" text-anchor="start" font-weight="normal" fill="#000" stroke="#000" stroke-width="0.1" textLength="11.7" lengthAdjust="spacingAndGlyphs">30</text>
<text x="871.3" y="140.0" font-size="10.2" text-anchor="start" font-weight="normal" fill="#000" stroke="#000" stroke-width="0.1" textLength="11.7" lengthAdjust="spacingAndGlyphs">10</text>
<text x="871.3" y="168.0" font-size="10.2" text-anchor="start" font-weight="normal" fill="#000" stroke="#000" stroke-width="0.1" textLength="11.7" lengthAdjust="spacingAndGlyphs">85</text>
<text x="871.3" y="191.0" font-size="10.2" text-anchor="start" font-weight="normal" fill="#000" stroke="#000" stroke-width="0.1" textLength="11.7" lengthAdjust="spacingAndGlyphs">80</text>
<text x="871.3" y="215.0" font-size="10.2" text-anchor="start" font-weight="normal" fill="#000" stroke="#000" stroke-width="0.1" textLength="11.7" lengthAdjust="spacingAndGlyphs">75</text>
<text x="871.3" y="239.0" font-size="10.2" text-anchor="start" font-weight="normal" fill="#000" stroke="#000" stroke-width="0.1" textLength="11.7" lengthAdjust="spacingAndGlyphs">70</text>
<text x="871.3" y="262.0" font-size="10.2" text-anchor="start" font-weight="normal" fill="#000" stroke="#000" stroke-width="0.1" textLength="11.7" lengthAdjust="spacingAndGlyphs">65</text>
<text x="871.3" y="286.0" font-size="10.2" text-anchor="start" font-weight="normal" fill="#000" stroke="#000" stroke-width="0.1" textLength="11.7" lengthAdjust="spacingAndGlyphs">60</text>
<text x="871.3" y="310.0" font-size="10.2" text-anchor="start" font-weight="normal" fill="#000" stroke="#000" stroke-width="0.1" textLength="11.7" lengthAdjust="spacingAndGlyphs">55</text>
<text x="871.3" y="333.0" font-size="10.2" text-anchor="start" font-weight="normal" fill="#000" stroke="#000" stroke-width="0.1" textLength="11.7" lengthAdjust="spacingAndGlyphs">50</text>
<text x="871.3" y="357.0" font-size="10.2" text-anchor="start" font-weight="normal" fill="#000" stroke="#000" stroke-width="0.1" textLength="11.7" lengthAdjust="spacingAndGlyphs">45</text>
<text x="871.3" y="381.0" font-size="10.2" text-anchor="start" font-weight="normal" fill="#000" stroke="#000" stroke-width="0.1" textLength="11.7" lengthAdjust="spacingAndGlyphs">40</text>
<text x="871.3" y="404.0" font-size="10.2" text-anchor="start" font-weight="normal" fill="#000" stroke="#000" stroke-width="0.1" textLength="11.7" lengthAdjust="spacingAndGlyphs">35</text>
<text x="871.3" y="428.0" font-size="10.2" text-anchor="start" font-weight="normal" fill="#000" stroke="#000" stroke-width="0.1" textLength="11.7" lengthAdjust="spacingAndGlyphs">30</text>
<text x="871.3" y="452.0" font-size="10.2" text-anchor="start" font-weight="normal" fill="#000" stroke="#000" stroke-width="0.1" textLength="11.7" lengthAdjust="spacingAndGlyphs">25</text>
<text x="871.3" y="475.0" font-size="10.2" text-anchor="start" font-weight="normal" fill="#000" stroke="#000" stroke-width="0.1" textLength="11.7" lengthAdjust="spacingAndGlyphs">20</text>
<text x="871.3" y="499.0" font-size="10.2" text-anchor="start" font-weight="normal" fill="#000" stroke="#000" stroke-width="0.1" textLength="11.7" lengthAdjust="spacingAndGlyphs">15</text>
<polygon points="866.5,82.5 870.5,77.5 899.5,77.5 899.5,87.5 870.5,87.5" fill="#fff" stroke="#000" stroke-width="1" stroke-linejoin="miter"/><text x="870.6" y="86.0" font-size="10.2" text-anchor="start" font-weight="normal" fill="#000" stroke="#000" stroke-width="0.1" textLength="26.3" lengthAdjust="spacingAndGlyphs">58.15</text>
<polygon points="866.5,193.5 870.5,188.5 899.5,188.5 899.5,198.5 870.5,198.5" fill="#fff" stroke="#0a5c0a" stroke-width="1" stroke-linejoin="miter"/><text x="870.6" y="197.0" font-size="10.2" text-anchor="start" font-weight="normal" fill="#000" stroke="#000" stroke-width="0.1" textLength="26.3" lengthAdjust="spacingAndGlyphs">78.81</text>
<polygon points="866.5,266.0 870.5,260.5 899.5,260.5 899.5,271.5 870.5,271.5" fill="#fff" stroke="#000" stroke-width="1" stroke-linejoin="miter"/><text x="870.6" y="270.0" font-size="11" text-anchor="start" font-weight="bold" fill="#000" stroke="#000" stroke-width="0.1" textLength="27.6" lengthAdjust="spacingAndGlyphs">63.64</text>
<polygon points="866.5,320.5 870.5,315.5 899.5,315.5 899.5,325.5 870.5,325.5" fill="#fff" stroke="#f00" stroke-width="1" stroke-linejoin="miter"/><polygon points="866.5,322.5 870.5,317.5 899.5,317.5 899.5,327.5 870.5,327.5" fill="#fff" stroke="#000" stroke-width="1" stroke-linejoin="miter"/><text x="870.6" y="326.0" font-size="10.2" text-anchor="start" font-weight="normal" fill="#000" stroke="#000" stroke-width="0.1" textLength="26.3" lengthAdjust="spacingAndGlyphs">54.08</text>
<polygon points="866.5,406.5 870.5,401.5 899.5,401.5 899.5,411.5 870.5,411.5" fill="#fff" stroke="#00008b" stroke-width="1" stroke-linejoin="miter"/><text x="870.6" y="410.0" font-size="10.2" text-anchor="start" font-weight="normal" fill="#000" stroke="#000" stroke-width="0.1" textLength="26.3" lengthAdjust="spacingAndGlyphs">33.87</text>
<polygon points="866.5,473.5 870.5,468.5 899.5,468.5 899.5,478.5 870.5,478.5" fill="#fff" stroke="#cc0044" stroke-width="1" stroke-linejoin="miter"/><text x="870.6" y="477.0" font-size="10.2" text-anchor="start" font-weight="normal" fill="#000" stroke="#000" stroke-width="0.1" textLength="26.3" lengthAdjust="spacingAndGlyphs">19.62</text>
<text x="51.9" y="529.0" font-size="10.2" text-anchor="start" font-weight="normal" fill="#000" stroke="#000" stroke-width="0.1" textLength="11.7" lengthAdjust="spacingAndGlyphs">30</text>
<text x="69.4" y="529.0" font-size="11" text-anchor="start" font-weight="bold" fill="#000" stroke="#000" stroke-width="0.1" textLength="24.2" lengthAdjust="spacingAndGlyphs">2020</text>
<text x="104.6" y="529.0" font-size="10.2" text-anchor="start" font-weight="normal" fill="#000" stroke="#000" stroke-width="0.1" textLength="5.8" lengthAdjust="spacingAndGlyphs">6</text>
<text x="161.7" y="529.0" font-size="10.2" text-anchor="start" font-weight="normal" fill="#000" stroke="#000" stroke-width="0.1" textLength="11.7" lengthAdjust="spacingAndGlyphs">13</text>
<text x="222.0" y="529.0" font-size="10.2" text-anchor="start" font-weight="normal" fill="#000" stroke="#000" stroke-width="0.1" textLength="11.7" lengthAdjust="spacingAndGlyphs">21</text>
<text x="270.5" y="529.0" font-size="10.2" text-anchor="start" font-weight="normal" fill="#000" stroke="#000" stroke-width="0.1" textLength="11.7" lengthAdjust="spacingAndGlyphs">27</text>
<text x="327.2" y="529.0" font-size="11" text-anchor="start" font-weight="bold" fill="#000" stroke="#000" stroke-width="0.1" textLength="20.6" lengthAdjust="spacingAndGlyphs">Feb</text>
<text x="392.6" y="529.0" font-size="10.2" text-anchor="start" font-weight="normal" fill="#000" stroke="#000" stroke-width="0.1" textLength="11.7" lengthAdjust="spacingAndGlyphs">10</text>
<text x="452.9" y="529.0" font-size="10.2" text-anchor="start" font-weight="normal" fill="#000" stroke="#000" stroke-width="0.1" textLength="11.7" lengthAdjust="spacingAndGlyphs">18</text>
<text x="500.8" y="529.0" font-size="10.2" text-anchor="start" font-weight="normal" fill="#000" stroke="#000" stroke-width="0.1" textLength="11.7" lengthAdjust="spacingAndGlyphs">24</text>
<text x="558.1" y="529.0" font-size="11" text-anchor="start" font-weight="bold" fill="#000" stroke="#000" stroke-width="0.1" textLength="21.2" lengthAdjust="spacingAndGlyphs">Mar</text>
<text x="626.6" y="529.0" font-size="10.2" text-anchor="start" font-weight="normal" fill="#000" stroke="#000" stroke-width="0.1" textLength="5.8" lengthAdjust="spacingAndGlyphs">9</text>
<text x="683.2" y="529.0" font-size="10.2" text-anchor="start" font-weight="normal" fill="#000" stroke="#000" stroke-width="0.1" textLength="11.7" lengthAdjust="spacingAndGlyphs">16</text>
<text x="744.0" y="529.0" font-size="10.2" text-anchor="start" font-weight="normal" fill="#000" stroke="#000" stroke-width="0.1" textLength="11.7" lengthAdjust="spacingAndGlyphs">23</text>
<text x="804.6" y="529.0" font-size="10.2" text-anchor="start" font-weight="normal" fill="#000" stroke="#000" stroke-width="0.1" textLength="11.7" lengthAdjust="spacingAndGlyphs">30</text>
<text x="825.8" y="529.0" font-size="11" text-anchor="start" font-weight="bold" fill="#000" stroke="#000" stroke-width="0.1" textLength="20.8" lengthAdjust="spacingAndGlyphs">Apr</text>
</svg>
</body></html>
